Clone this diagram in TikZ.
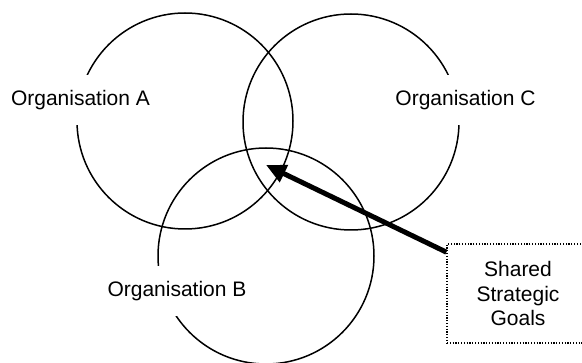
\documentclass[tikz,border=0pt]{standalone}
\usepackage{fontspec}
\setmainfont{Liberation Sans}
\usetikzlibrary{arrows.meta}
\begin{document}
\begin{tikzpicture}[x=1pt,y=-1pt,
  ring/.style={draw,circle,line width=1.5pt,minimum size=216pt,inner sep=0pt},
  orglabel/.style={fill=white,inner xsep=4pt,minimum height=50pt,
    font=\fontsize{21}{25}\selectfont},
  goalbox/.style={draw,line width=1.2pt,dash pattern=on 1.2pt off 1.6pt,
    fill=white,align=center,font=\fontsize{21}{24.5}\selectfont,
    minimum width=142pt,minimum height=99pt,inner sep=0pt},
  pointer/.style={line width=5pt,-{Triangle[length=20pt,width=18pt]}}]
\useasboundingbox (0,0) rectangle (582,363);

% the three organisations
\node[ring] (ringA) at (185,121) {};
\node[ring] (ringC) at (351,122) {};
\node[ring] (ringB) at (266,256) {};

% labels sit on white patches that break the rings
\node[orglabel] (labA) at (80.5,100) {Organisation A};
\node[orglabel] (labC) at (465.5,100) {Organisation C};
\node[orglabel] (labB) at (177,291.5) {Organisation B};

% callout box and its pointer into the common overlap
\node[goalbox] (goals) at (518,293.5) {Shared\\Strategic\\Goals};
\coordinate (core) at (266,165);
\draw[pointer] (goals.150) -- (core);
\end{tikzpicture}
\end{document}
